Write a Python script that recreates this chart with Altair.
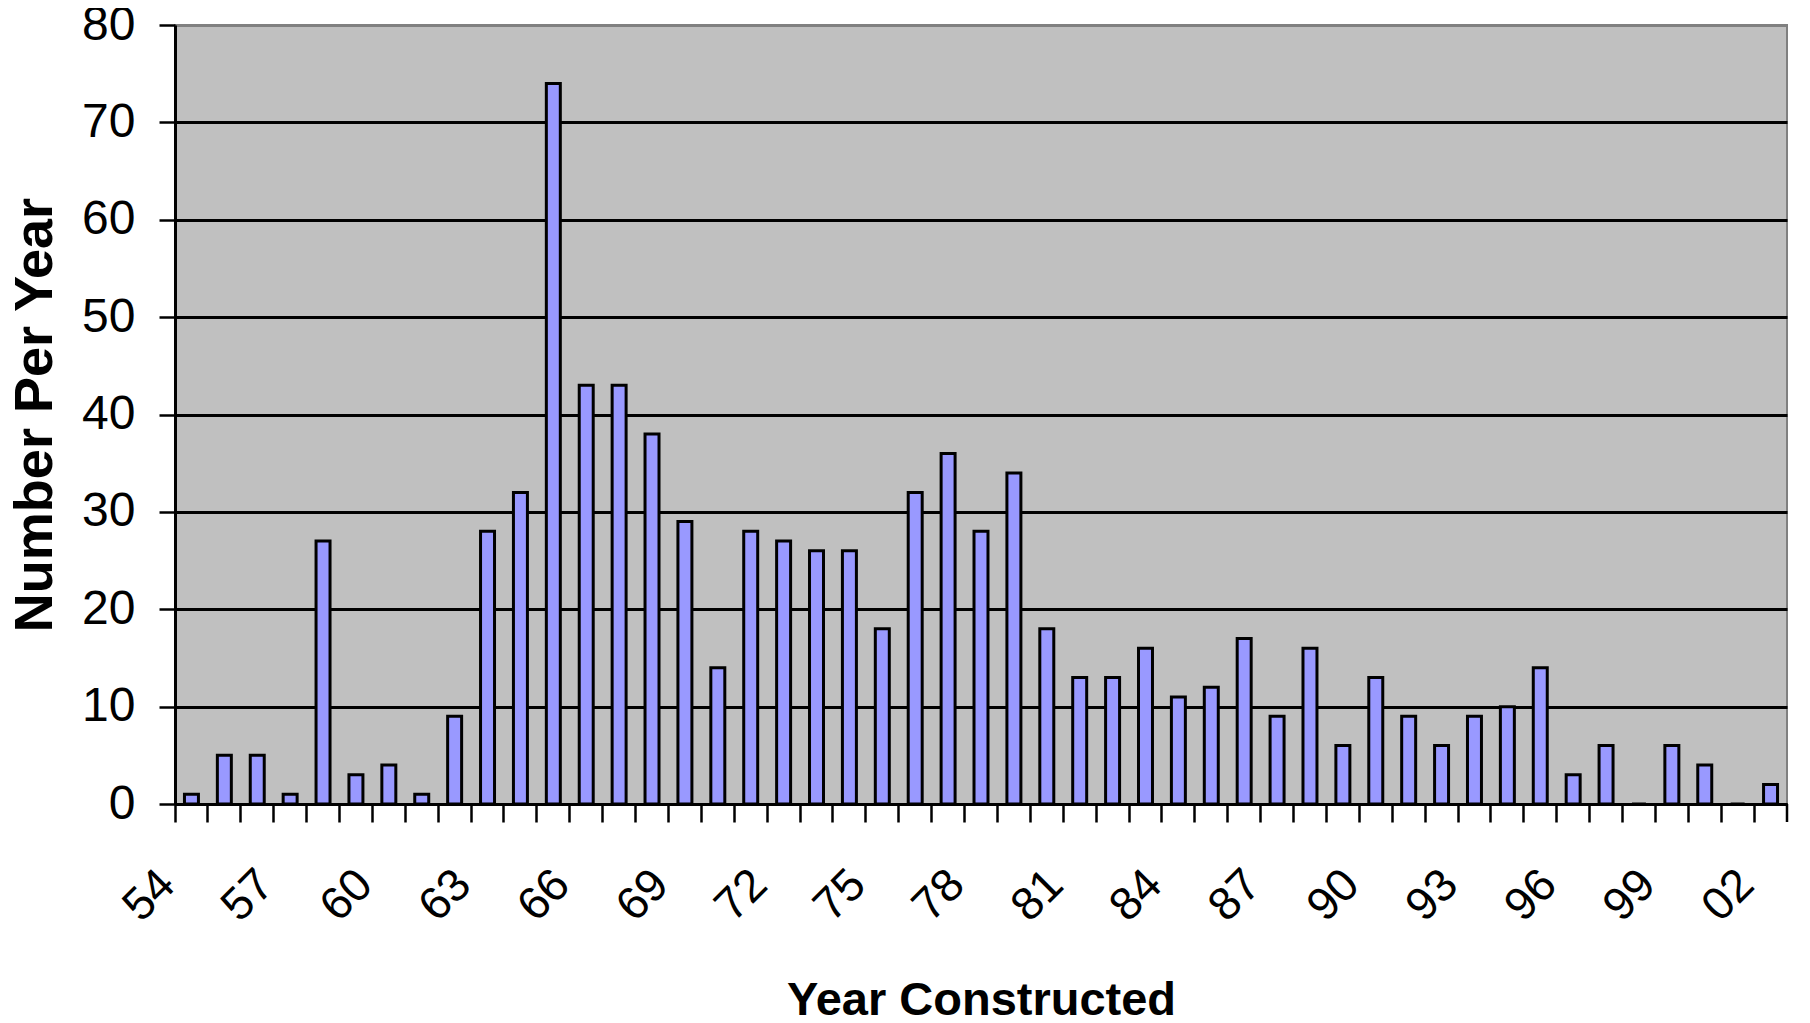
import json
import altair as alt
import pandas as pd

years = ['54', '55', '56', '57', '58', '59', '60', '61', '62', '63', '64', '65',
         '66', '67', '68', '69', '70', '71', '72', '73', '74', '75', '76', '77',
         '78', '79', '80', '81', '82', '83', '84', '85', '86', '87', '88', '89',
         '90', '91', '92', '93', '94', '95', '96', '97', '98', '99', '00', '01', '02']
counts = [1, 5, 5, 1, 27, 3, 4, 1, 9, 28, 32, 74,
          43, 43, 38, 29, 14, 28, 27, 26, 26, 18, 32, 36,
          28, 34, 18, 13, 13, 16, 11, 12, 17, 9, 16, 6,
          13, 9, 6, 9, 10, 14, 3, 6, 0, 6, 4, 0, 2]
tick_labels = ['54', '57', '60', '63', '66', '69', '72', '75', '78', '81',
               '84', '87', '90', '93', '96', '99', '02']
y_ticks = [0, 10, 20, 30, 40, 50, 60, 70, 80]

df = pd.DataFrame({'year': years, 'count': counts})

W, H = 1612, 779
FONT = 'Liberation Sans'
label_expr = "indexof(" + json.dumps(tick_labels) + ", datum.value) >= 0 ? datum.value : ''"

x_axis = alt.Axis(
    title='Year Constructed', titleFont=FONT, titleFontSize=47, titleFontWeight='bold',
    titleColor='black', titleBaseline='alphabetic', titleY=210,
    labelFont=FONT, labelFontSize=46, labelColor='black', labelAngle=-45,
    labelAlign='right', labelBaseline='middle', labelPadding=55, labelOffset=-24,
    labelExpr=label_expr, labelOverlap=False, labelBound=False,
    bandPosition=0, tickSize=18, tickWidth=2.5, tickColor='black',
    domainColor='black', domainWidth=3, grid=False,
)

y_axis = alt.Axis(
    title='Number Per Year', titleFont=FONT, titleFontSize=54, titleFontWeight='bold',
    titleColor='black', titleBaseline='alphabetic', titleX=-124,
    labelFont=FONT, labelFontSize=48, labelColor='black', labelPadding=24,
    values=y_ticks, tickSize=16, tickWidth=2.5, tickColor='black',
    domainColor='black', domainWidth=3,
    grid=True, gridWidth=3,
    gridColor={"condition": {"test": "datum.value === 80", "value": "#808080"}, "value": "#000000"},
)

bars = alt.Chart(df).mark_bar(
    width=alt.RelativeBandSize(0.425), color='#9999FF', stroke='black', strokeWidth=3
).encode(
    x=alt.X('year:N', sort=years, scale=alt.Scale(paddingInner=0, paddingOuter=0), axis=x_axis),
    y=alt.Y('count:Q', scale=alt.Scale(domain=[0, 80], nice=False), axis=y_axis),
)

end_tick = alt.Chart(pd.DataFrame({'k': [0]})).mark_rule(
    color='black', strokeWidth=2.5
).encode(x=alt.value(W), y=alt.value(H), y2=alt.value(H + 18))

chart = alt.layer(bars, end_tick).properties(
    width=W, height=H,
    autosize=alt.AutoSizeParams(type='none'),
    padding={'left': 167, 'top': 17, 'right': 15, 'bottom': 222},
).configure_view(
    fill='#C0C0C0', stroke='#808080', strokeWidth=2
)

chart.save("out.html", embed_options={"renderer": "svg", "actions": False})
